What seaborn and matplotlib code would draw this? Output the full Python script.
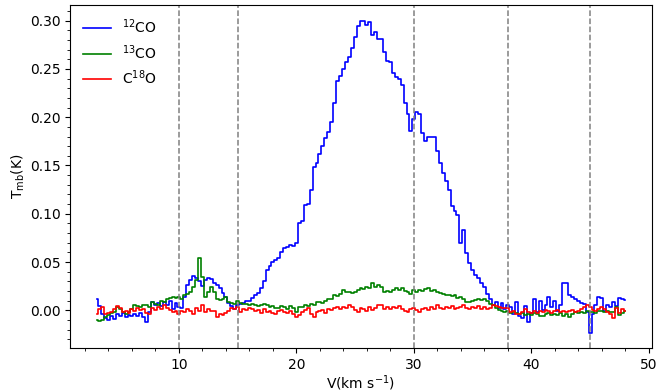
import matplotlib

matplotlib.use("Agg")
import matplotlib.pyplot as plt
import numpy as np
import pandas as pd
import seaborn as sns
from matplotlib.ticker import MultipleLocator

# channel grid (km/s), 0.25 km/s per channel
v_start = 3.0
dv = 0.25

tmb_12co = [
    0.012, 0.004, -0.004, -0.008,
    -0.010, -0.006, -0.009, -0.004,
    -0.006, -0.003, -0.007, -0.005,
    -0.006, -0.004, -0.006, -0.003,
    -0.007, -0.012, -0.002, 0.009,
    0.006, 0.008, 0.004, 0.009,
    0.006, 0.010, 0.001, 0.008,
    0.003, 0.002, 0.014, 0.026,
    0.031, 0.036, 0.033, 0.030,
    0.025, 0.031, 0.033, 0.032,
    0.028, 0.026, 0.023, 0.018,
    0.014, 0.008, 0.004, 0.001,
    0.006, 0.007, 0.008, 0.010,
    0.010, 0.013, 0.016, 0.018,
    0.023, 0.030, 0.042, 0.046,
    0.050, 0.052, 0.054, 0.060,
    0.065, 0.066, 0.068, 0.067,
    0.070, 0.090, 0.092, 0.109,
    0.110, 0.125, 0.148, 0.153,
    0.162, 0.170, 0.178, 0.185,
    0.195, 0.215, 0.238, 0.243,
    0.250, 0.257, 0.262, 0.272,
    0.283, 0.294, 0.300, 0.300,
    0.296, 0.299, 0.285, 0.288,
    0.281, 0.281, 0.268, 0.258,
    0.257, 0.246, 0.242, 0.240,
    0.233, 0.215, 0.203, 0.186,
    0.198, 0.205, 0.203, 0.184,
    0.175, 0.180, 0.179, 0.180,
    0.165, 0.153, 0.142, 0.134,
    0.125, 0.108, 0.103, 0.099,
    0.070, 0.083, 0.059, 0.049,
    0.042, 0.037, 0.033, 0.028,
    0.024, 0.017, 0.012, 0.005,
    0.009, 0.002, 0.008, 0.001,
    0.006, 0.003, -0.004, 0.009,
    -0.006, -0.008, 0.004, -0.012,
    -0.003, 0.012, -0.002, 0.010,
    0.000, 0.006, 0.014, 0.003,
    0.010, -0.001, 0.006, 0.028,
    0.028, 0.016, 0.014, 0.012,
    0.010, 0.008, 0.007, -0.002,
    -0.023, -0.004, 0.006, 0.014,
    0.013, -0.001, 0.005, 0.003,
    0.009, 0.004, 0.013, 0.012,
    0.011,
]

tmb_13co = [
    -0.010, -0.011, -0.010, -0.007,
    -0.005, -0.003, -0.002, 0.003,
    0.001, -0.002, -0.004, -0.002,
    0.001, 0.005, 0.004, 0.003,
    0.005, 0.006, 0.003, 0.009,
    0.007, 0.005, 0.010, 0.009,
    0.012, 0.013, 0.014, 0.013,
    0.014, 0.012, 0.016, 0.017,
    0.019, 0.024, 0.031, 0.054,
    0.035, 0.014, 0.019, 0.024,
    0.019, 0.012, 0.011, 0.012,
    0.014, 0.009, 0.008, 0.007,
    0.010, 0.008, 0.007, 0.007,
    0.006, 0.007, 0.006, 0.004,
    0.005, 0.007, 0.006, 0.003,
    0.004, 0.002, 0.002, 0.004,
    0.003, 0.001, 0.004, 0.002,
    -0.002, 0.003, 0.003, 0.005,
    0.004, 0.007, 0.006, 0.009,
    0.009, 0.008, 0.010, 0.012,
    0.012, 0.016, 0.015, 0.017,
    0.021, 0.019, 0.019, 0.018,
    0.019, 0.021, 0.023, 0.022,
    0.024, 0.023, 0.028, 0.024,
    0.026, 0.024, 0.019, 0.020,
    0.019, 0.021, 0.023, 0.021,
    0.023, 0.020, 0.019, 0.017,
    0.021, 0.019, 0.021, 0.020,
    0.022, 0.023, 0.020, 0.021,
    0.019, 0.018, 0.017, 0.016,
    0.016, 0.015, 0.016, 0.013,
    0.014, 0.012, 0.009, 0.009,
    0.010, 0.011, 0.012, 0.011,
    0.012, 0.010, 0.007, 0.005,
    0.002, 0.000, -0.001, -0.002,
    -0.001, -0.003, -0.002, -0.003,
    -0.004, -0.003, -0.005, -0.004,
    -0.005, -0.003, -0.004, -0.006,
    -0.006, -0.004, -0.003, -0.005,
    -0.004, -0.005, -0.003, -0.006,
    -0.004, -0.007, -0.004, -0.002,
    -0.003, -0.002, -0.003, -0.001,
    -0.002, -0.002, -0.003, -0.001,
    -0.001, -0.002, -0.001, -0.002,
    -0.002, 0.003, -0.005, -0.003,
    -0.001,
]

tmb_c18o = [
    -0.004, 0.001, 0.003, -0.004,
    -0.003, -0.002, 0.001, 0.004,
    0.002, -0.002, -0.001, -0.003,
    0.001, -0.001, 0.002, 0.000,
    0.001, -0.003, -0.004, 0.002,
    0.000, 0.003, 0.001, 0.005,
    0.002, 0.000, -0.002, -0.001,
    -0.004, -0.001, -0.002, 0.001,
    -0.001, -0.004, 0.002, -0.001,
    0.005, -0.002, 0.001, -0.001,
    -0.001, -0.007, -0.004, -0.005,
    -0.003, -0.001, 0.002, 0.001,
    0.003, -0.002, 0.001, 0.000,
    0.002, 0.001, -0.001, 0.000,
    -0.003, 0.001, -0.002, -0.001,
    -0.003, -0.004, -0.001, 0.000,
    -0.002, -0.003, -0.001, -0.004,
    -0.007, -0.005, -0.002, 0.000,
    0.002, -0.004, -0.007, -0.002,
    -0.001, 0.000, -0.003, 0.001,
    0.000, 0.002, 0.003, 0.001,
    0.003, 0.002, 0.005, 0.003,
    0.000, -0.002, 0.002, 0.001,
    -0.001, 0.003, 0.000, 0.002,
    0.006, 0.005, 0.001, 0.003,
    0.001, 0.003, 0.002, 0.004,
    0.001, -0.001, -0.002, 0.001,
    0.002, 0.000, -0.002, 0.001,
    0.002, 0.000, 0.003, 0.001,
    0.006, 0.002, 0.001, 0.003,
    0.002, 0.004, 0.001, 0.002,
    0.003, 0.005, 0.002, 0.001,
    0.003, 0.002, 0.004, 0.001,
    0.003, 0.001, 0.002, 0.006,
    0.004, 0.003, 0.002, 0.002,
    0.002, -0.002, -0.001, -0.004,
    -0.004, -0.002, 0.001, -0.002,
    -0.003, -0.001, -0.003, -0.001,
    -0.002, 0.000, -0.001, -0.003,
    -0.001, 0.000, -0.002, -0.001,
    -0.002, -0.001, 0.000, -0.002,
    -0.001, 0.001, 0.003, 0.005,
    0.003, 0.000, -0.001, 0.001,
    0.003, 0.001, -0.002, -0.004,
    -0.008, 0.002, -0.003, 0.001,
    -0.001,
]

line_labels = [r"$^{12}$CO", r"$^{13}$CO", r"C$^{18}$O"]
line_colors = ["blue", "green", "red"]
vlines_at = [10, 15, 30, 38, 45]

frames = []
for label, tmb in zip(line_labels, [tmb_12co, tmb_13co, tmb_c18o]):
    velocity = v_start + dv * np.arange(len(tmb))
    frames.append(pd.DataFrame({"v": velocity, "tmb": tmb, "line": label}))
df = pd.concat(frames, ignore_index=True)

fig, ax = plt.subplots(figsize=(6.57, 3.92), dpi=100)
sns.lineplot(
    data=df,
    x="v",
    y="tmb",
    hue="line",
    hue_order=line_labels,
    palette=dict(zip(line_labels, line_colors)),
    estimator=None,
    sort=False,
    drawstyle="steps-mid",
    linewidth=1.2,
    ax=ax,
)
for xv in vlines_at:
    ax.axvline(xv, color="gray", linestyle="--", linewidth=1.1)

ax.xaxis.set_minor_locator(MultipleLocator(2))
ax.yaxis.set_minor_locator(MultipleLocator(0.01))
ax.set_xlabel(r"V(km s$^{-1}$)", labelpad=1)
ax.set_ylabel(r"T$_{\rm mb}$(K)", labelpad=2)
ax.legend(loc="upper left", frameon=False)

fig.subplots_adjust(left=0.107, right=0.992, top=0.987, bottom=0.112)
fig.savefig("out.png", dpi=100)
plt.close(fig)
